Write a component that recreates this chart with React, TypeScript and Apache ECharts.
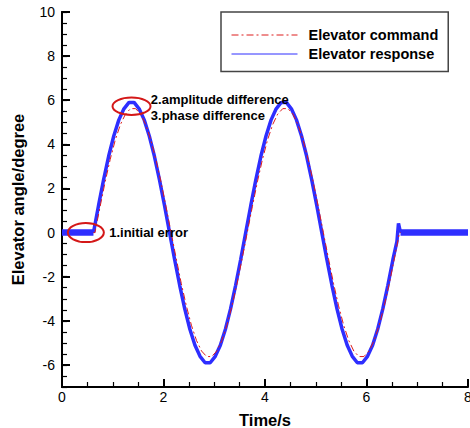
import React, { useEffect, useRef } from "react";
import * as echarts from "echarts";

// ---- data ----
const xTicks = [0, 2, 4, 6, 8];
const yTicks = [-6, -4, -2, 0, 2, 4, 6, 8, 10];

const cmdTime = [0, 0.65, 0.75, 0.85, 0.95, 1.05, 1.15, 1.25, 1.35, 1.45, 1.55, 1.65, 1.75, 1.85, 1.95, 2.05, 2.15,
  2.25, 2.35, 2.45, 2.55, 2.65, 2.75, 2.85, 2.95, 3.05, 3.15, 3.25, 3.35, 3.45, 3.55, 3.65,
  3.75, 3.85, 3.95, 4.05, 4.15, 4.25, 4.35, 4.45, 4.55, 4.65, 4.75, 4.85, 4.95, 5.05, 5.15,
  5.25, 5.35, 5.45, 5.55, 5.65, 5.75, 5.85, 5.95, 6.05, 6.15, 6.25, 6.35, 6.45, 6.55, 6.65, 8];
const cmdValue = [0, 0, 1.17, 2.30, 3.32, 4.20, 4.89, 5.37, 5.62, 5.62, 5.37, 4.89, 4.20, 3.32, 2.30, 1.17, 0,
  -1.17, -2.30, -3.32, -4.20, -4.89, -5.37, -5.62, -5.62, -5.37, -4.89, -4.20, -3.32, -2.30, -1.17, 0,
  1.17, 2.30, 3.32, 4.20, 4.89, 5.37, 5.62, 5.62, 5.37, 4.89, 4.20, 3.32, 2.30, 1.17, 0,
  -1.17, -2.30, -3.32, -4.20, -4.89, -5.37, -5.62, -5.62, -5.37, -4.89, -4.20, -3.32, -2.30, -1.17, 0, 0];

const respTime = [0.62, 0.72, 0.82, 0.92, 1.02, 1.12, 1.22, 1.32, 1.42, 1.52, 1.62, 1.72, 1.82, 1.92, 2.02, 2.12,
  2.22, 2.32, 2.42, 2.52, 2.62, 2.72, 2.82, 2.92, 3.02, 3.12, 3.22, 3.32, 3.42, 3.52, 3.62,
  3.72, 3.82, 3.92, 4.02, 4.12, 4.22, 4.32, 4.42, 4.52, 4.62, 4.72, 4.82, 4.92, 5.02, 5.12,
  5.22, 5.32, 5.42, 5.52, 5.62, 5.72, 5.82, 5.92, 6.02, 6.12, 6.22, 6.32, 6.42, 6.52, 6.6, 6.63, 6.67];
const respValue = [0, 1.23, 2.40, 3.47, 4.38, 5.11, 5.61, 5.90, 5.90, 5.61, 5.11, 4.38, 3.47, 2.40, 1.23, 0,
  -1.23, -2.40, -3.47, -4.38, -5.11, -5.61, -5.90, -5.90, -5.61, -5.11, -4.38, -3.47, -2.40, -1.23, 0,
  1.23, 2.40, 3.47, 4.38, 5.11, 5.61, 5.90, 5.90, 5.61, 5.11, 4.38, 3.47, 2.40, 1.23, 0,
  -1.23, -2.40, -3.47, -4.38, -5.11, -5.61, -5.90, -5.90, -5.61, -5.11, -4.38, -3.47, -2.40, -1.23, -0.4, 0.42, 0];

const holdStartTime = [0, 0.62];
const holdStartValue = [0, 0];
const holdEndTime = [6.67, 8];
const holdEndValue = [0, 0];

const annoText = ["1.initial error", "2.amplitude difference", "3.phase difference"];
const annoX = [0.93, 1.75, 1.75];
const annoY = [0, 6.02, 5.33];
const ringX = [0.47, 1.37];
const ringY = [0, 5.73];

const FONT = '"Liberation Sans", Arial, Helvetica, sans-serif';
const BLUE = "#2e2eff";
const RED = "#dd1c1c";

const zip = (t: number[], v: number[]) => t.map((x, i) => [x, v[i]]);

export default function App() {
  const ref = useRef<HTMLDivElement>(null);
  useEffect(() => {
    const chart = echarts.init(ref.current!, null, { renderer: "svg" });
    const axisText = { fontFamily: FONT, fontSize: 14, color: "#000" };
    const nameText = { fontFamily: FONT, fontSize: 16.5, fontWeight: "bold", color: "#000" };
    const hidden = { color: "rgba(0,0,0,0)", borderColor: "rgba(0,0,0,0)", borderWidth: 0, opacity: 0 };
    const option: any = {
      animation: false,
      backgroundColor: "#fff",
      grid: { left: 62, right: 2, top: 12, bottom: 41, outerBoundsMode: "none", containLabel: false },
      legend: {
        orient: "vertical",
        left: 221,
        top: 12,
        padding: [15.5, 10, 10, 10],
        itemGap: 4,
        itemWidth: 66,
        itemHeight: 14,
        borderColor: "#444",
        borderWidth: 1.5,
        backgroundColor: "#fff",
        selectedMode: false,
        textStyle: { fontFamily: FONT, fontSize: 14.5, fontWeight: "bold", color: "#000", padding: [0, 0, 0, 6] },
        data: [
          { name: "Elevator command", lineStyle: { width: 1 }, itemStyle: hidden },
          { name: "Elevator response", lineStyle: { width: 1 }, itemStyle: hidden },
        ],
      },
      xAxis: {
        type: "value",
        min: 0,
        max: 8,
        interval: 2,
        name: "Time/s",
        nameLocation: "middle",
        nameGap: 24,
        nameTextStyle: nameText,
        axisLine: { show: true, onZero: false, lineStyle: { color: "#000", width: 2 } },
        axisTick: { show: true, inside: true, length: 8, lineStyle: { color: "#000", width: 2 } },
        minorTick: { show: true, splitNumber: 4, length: 5, lineStyle: { color: "#000", width: 1.2 } },
        axisLabel: { ...axisText, margin: 3, customValues: xTicks },
        splitLine: { show: false },
        minorSplitLine: { show: false },
      },
      yAxis: [
        {
          type: "value",
          min: -7,
          max: 10,
          interval: 0.5,
          position: "left",
          name: "Elevator angle/degree",
          nameLocation: "middle",
          nameGap: 36,
          nameTextStyle: nameText,
          axisLine: { show: true, onZero: false, lineStyle: { color: "#000", width: 2 } },
          axisTick: { show: true, inside: true, length: 5, lineStyle: { color: "#000", width: 1.2 } },
          axisLabel: { show: false },
          splitLine: { show: false },
        },
        {
          type: "value",
          min: -7,
          max: 10,
          interval: 0.5,
          position: "left",
          offset: 0,
          axisLine: { show: true, onZero: false, lineStyle: { color: "#000", width: 2 } },
          axisTick: { show: true, inside: true, length: 8, customValues: yTicks, lineStyle: { color: "#000", width: 2 } },
          axisLabel: { ...axisText, margin: 7, customValues: yTicks },
          splitLine: { show: false },
        },
      ],
      series: [
        {
          name: "Elevator response",
          type: "line",
          data: zip(respTime, respValue),
          symbol: "none",
          lineStyle: { color: BLUE, width: 3.5 },
          itemStyle: { color: BLUE },
          z: 2,
        },
        {
          name: "Elevator response",
          type: "line",
          data: zip(holdStartTime, holdStartValue),
          symbol: "none",
          lineStyle: { color: BLUE, width: 6.5 },
          itemStyle: { color: BLUE },
          z: 4,
        },
        {
          name: "Elevator response",
          type: "line",
          data: zip(holdEndTime, holdEndValue),
          symbol: "none",
          lineStyle: { color: BLUE, width: 6.5 },
          itemStyle: { color: BLUE },
          z: 4,
        },
        {
          name: "Elevator command",
          type: "line",
          data: zip(cmdTime, cmdValue),
          symbol: "none",
          lineStyle: { color: RED, width: 1, type: [7, 3, 2, 3] },
          itemStyle: { color: RED },
          z: 3,
        },
      ],
    };
    chart.setOption(option);

    const px = (x: number, y: number) => chart.convertToPixel({ gridIndex: 0 } as any, [x, y]) as number[];
    const ringSize = [[18, 9.5], [19, 8.7]];
    const graphics: any[] = [];
    ringX.forEach((x, i) => {
      const [cx, cy] = px(x, ringY[i]);
      graphics.push({
        type: "ellipse",
        shape: { cx, cy, rx: ringSize[i][0], ry: ringSize[i][1] },
        style: { fill: "none", stroke: "#d41818", lineWidth: 2 },
        z: 10,
      });
    });
    annoText.forEach((t, i) => {
      const [x, y] = px(annoX[i], annoY[i]);
      graphics.push({
        type: "text",
        x,
        y,
        style: { text: t, font: `bold 13px ${FONT}`, fill: "#000", align: "left", verticalAlign: "middle" },
        z: 10,
      });
    });
    chart.setOption({ graphic: graphics });

    return () => chart.dispose();
  }, []);
  return <div ref={ref} style={{ position: "absolute", left: 0, top: 0, width: 470, height: 428 }} />;
}
